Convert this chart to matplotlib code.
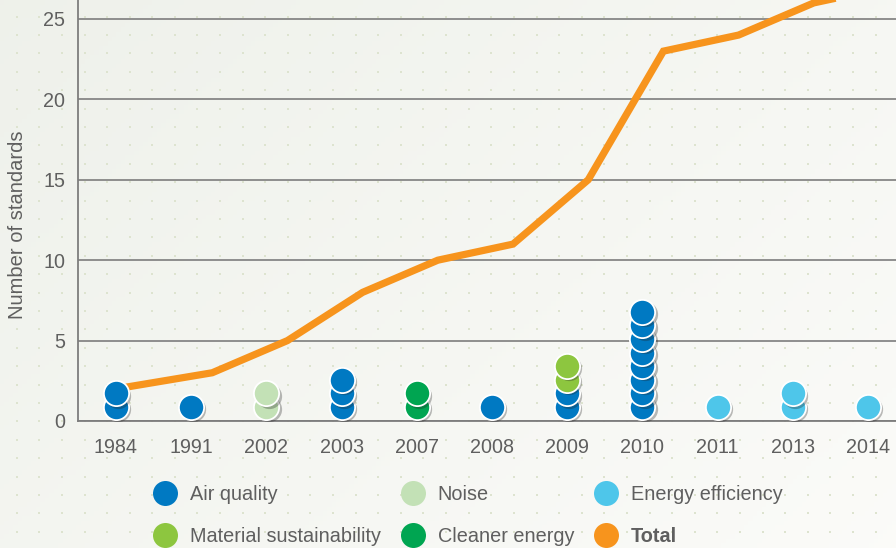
import numpy as np
import matplotlib
matplotlib.use("Agg")
import matplotlib.pyplot as plt
from matplotlib.transforms import offset_copy
from matplotlib.lines import Line2D

plt.rcParams['font.family'] = ['Liberation Sans', 'DejaVu Sans']

# data
years = ['1984', '1991', '2002', '2003', '2007', '2008', '2009', '2010', '2011', '2013', '2014']
air_quality = [2, 1, 0, 3, 0, 1, 2, 8, 0, 0, 0]
noise = [0, 0, 2, 0, 0, 0, 0, 0, 0, 0, 0]
cleaner_energy = [0, 0, 0, 0, 2, 0, 0, 0, 0, 0, 0]
material = [0, 0, 0, 0, 0, 0, 2, 0, 0, 0, 0]
energy_eff = [0, 0, 0, 0, 0, 0, 0, 0, 1, 2, 1]
total = [2, 3, 5, 8, 10, 11, 15, 23, 24, 26, 27]

colors = {
    'Air quality': '#0079c2',
    'Noise': '#c3e1b6',
    'Energy efficiency': '#4ec6ea',
    'Material sustainability': '#8dc63f',
    'Cleaner energy': '#00a551',
    'Total': '#f7941d',
}
series = [('Air quality', air_quality), ('Noise', noise), ('Cleaner energy', cleaner_energy),
          ('Material sustainability', material), ('Energy efficiency', energy_eff)]

W, H = 896, 548
fig = plt.figure(figsize=(W / 100, H / 100), dpi=100)

# background with gradient and dot pattern
bg = fig.add_axes([0, 0, 1, 1])
bg.set_xlim(0, W)
bg.set_ylim(H, 0)
bg.axis('off')
gx, gy = np.meshgrid(np.linspace(0, 1, 200), np.linspace(0, 1, 120))
t = np.clip(0.6 * gx + 0.4 * gy, 0, 1)
c0 = np.array([0.935, 0.945, 0.920])
c1 = np.array([0.985, 0.985, 0.975])
img = c0[None, None, :] * (1 - t[..., None]) + c1[None, None, :] * t[..., None]
bg.imshow(img, extent=[0, W, H, 0], aspect='auto', zorder=0)
dx, dy = np.meshgrid(np.arange(16.7, W, 22.6), np.arange(16.7, H, 18.4))
bg.scatter(dx.ravel(), dy.ravel(), s=4, marker='s', color='#dde3cf', linewidths=0, zorder=1)

ax = fig.add_axes([78 / W, 1 - 421 / H, 1 - 78 / W, 421 / H])
ax.set_facecolor('none')
x = np.arange(len(years))
ax.set_xlim(-0.505, 10.373)
ax.set_ylim(0, 26.18)

# total line (drawn slightly right of each year)
line_x = x + 0.28
line_x[0] = 0
ax.plot(line_x, total, color=colors['Total'], lw=5.2, solid_joinstyle='miter', zorder=2)

# stacked circles
shadow = offset_copy(ax.transData, fig=fig, x=1.6, y=-1.6, units='points')
for i in range(len(years)):
    k = 0
    for name, vals in series:
        for _ in range(vals[i]):
            yy = 0.87 + 0.845 * k
            ax.scatter([x[i]], [yy], s=330, color='#222222', alpha=0.3, linewidths=0,
                       transform=shadow, zorder=3 + k * 0.01)
            ax.scatter([x[i]], [yy], s=330, color=colors[name], edgecolors='white',
                       linewidths=1.3, zorder=3.005 + k * 0.01)
            k += 1

ax.set_yticks([0, 5, 10, 15, 20, 25])
ax.set_xticks(x)
ax.set_xticklabels(years)
ax.tick_params(length=0, labelsize=14.2, colors='#5f5f5f')
ax.tick_params(axis='y', pad=9)
ax.tick_params(axis='x', pad=12)
ax.yaxis.grid(True, color='#7d7d7d', lw=1.2)
ax.set_axisbelow(True)
for s in ['top', 'right']:
    ax.spines[s].set_visible(False)
for s in ['left', 'bottom']:
    ax.spines[s].set_color('#7d7d7d')
    ax.spines[s].set_linewidth(1.3)
ax.set_ylabel('Number of standards', fontsize=14.5, color='#5f5f5f')
ax.yaxis.set_label_coords(-0.062, 0.465)

# legend
order = ['Air quality', 'Material sustainability', 'Noise', 'Cleaner energy',
         'Energy efficiency', 'Total']
handles = [Line2D([], [], ls='none', marker='o', markersize=18, color=colors[n],
                  markeredgewidth=0) for n in order]
leg = fig.legend(handles, order, loc='upper left', bbox_to_anchor=(145 / W, 1 - 475 / H),
                 ncol=3, frameon=False, fontsize=14.3, handlelength=1.0,
                 handletextpad=0.75, columnspacing=1.12, labelspacing=1.18, borderpad=0)
for txt in leg.get_texts():
    txt.set_color('#5f5f5f')
    if txt.get_text() == 'Total':
        txt.set_fontweight('bold')

fig.savefig('out.png', dpi=100)
